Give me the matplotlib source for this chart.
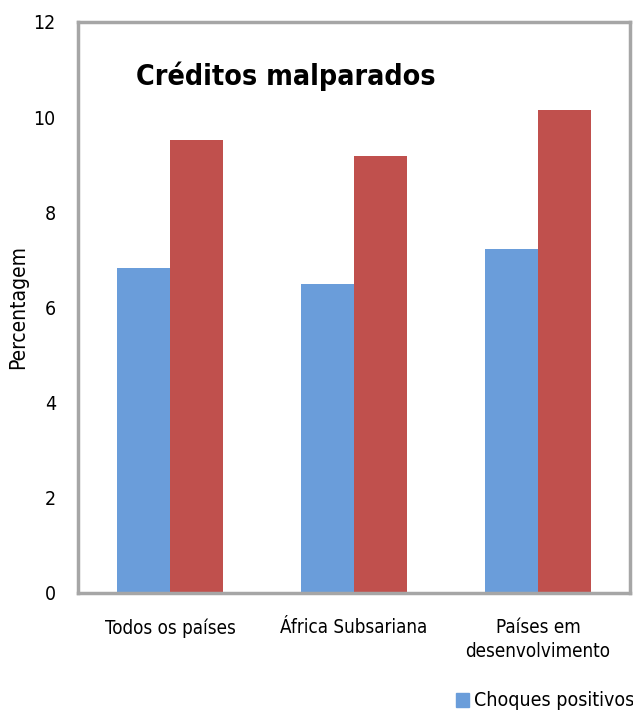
import matplotlib
matplotlib.use("Agg")
import matplotlib.pyplot as plt
import numpy as np
from matplotlib.patches import Patch

categories = ["Todos os países", "África Subsariana", "Países em\ndesenvolvimento"]
positivos = [6.83, 6.49, 7.23]
negativos = [9.52, 9.18, 10.15]
series_names = ["Choques positivos", "Choques negativos"]
yticks = [0, 2, 4, 6, 8, 10, 12]

plt.rcParams['font.family'] = ['DejaVu Sans']
plt.rcParams['font.stretch'] = 'condensed'

fig = plt.figure(figsize=(6.33, 7.11), dpi=100)
ax = fig.add_axes([78/633, 1-593/711, (630-78)/633, (593-22)/711])

x = np.arange(len(categories))
w = 0.29
ax.bar(x - w/2, positivos, w, color="#6A9DDA", label=series_names[0])
ax.bar(x + w/2, negativos, w, color="#C0504D", label=series_names[1])

ax.set_xlim(-0.5, 2.5)
ax.set_ylim(0, 12)
ax.set_yticks(yticks)
ax.set_xticks(x)
ax.set_xticklabels(categories, fontsize=13.5, linespacing=1.35)
ax.tick_params(axis='both', length=0)
ax.tick_params(axis='y', labelsize=14, pad=16)
ax.tick_params(axis='x', pad=18)
for s in ax.spines.values():
    s.set_color("#A6A6A6")
    s.set_linewidth(2.5)

fig.text(18/633, 1-307/711, "Percentagem", rotation=90, fontsize=15,
         ha='center', va='center')
ax.text(0.105, 0.905, "Créditos malparados", transform=ax.transAxes,
        fontsize=20.5, fontweight='bold', ha='left', va='center')

fig.legend(handles=[Patch(color="#6A9DDA", label=series_names[0])],
           loc='center left', bbox_to_anchor=(448/633, 1-701/711), ncol=1,
           frameon=False, fontsize=14, handlelength=0.7, handleheight=0.7,
           handletextpad=0.25, borderaxespad=0)

fig.savefig("out.png", dpi=100)
